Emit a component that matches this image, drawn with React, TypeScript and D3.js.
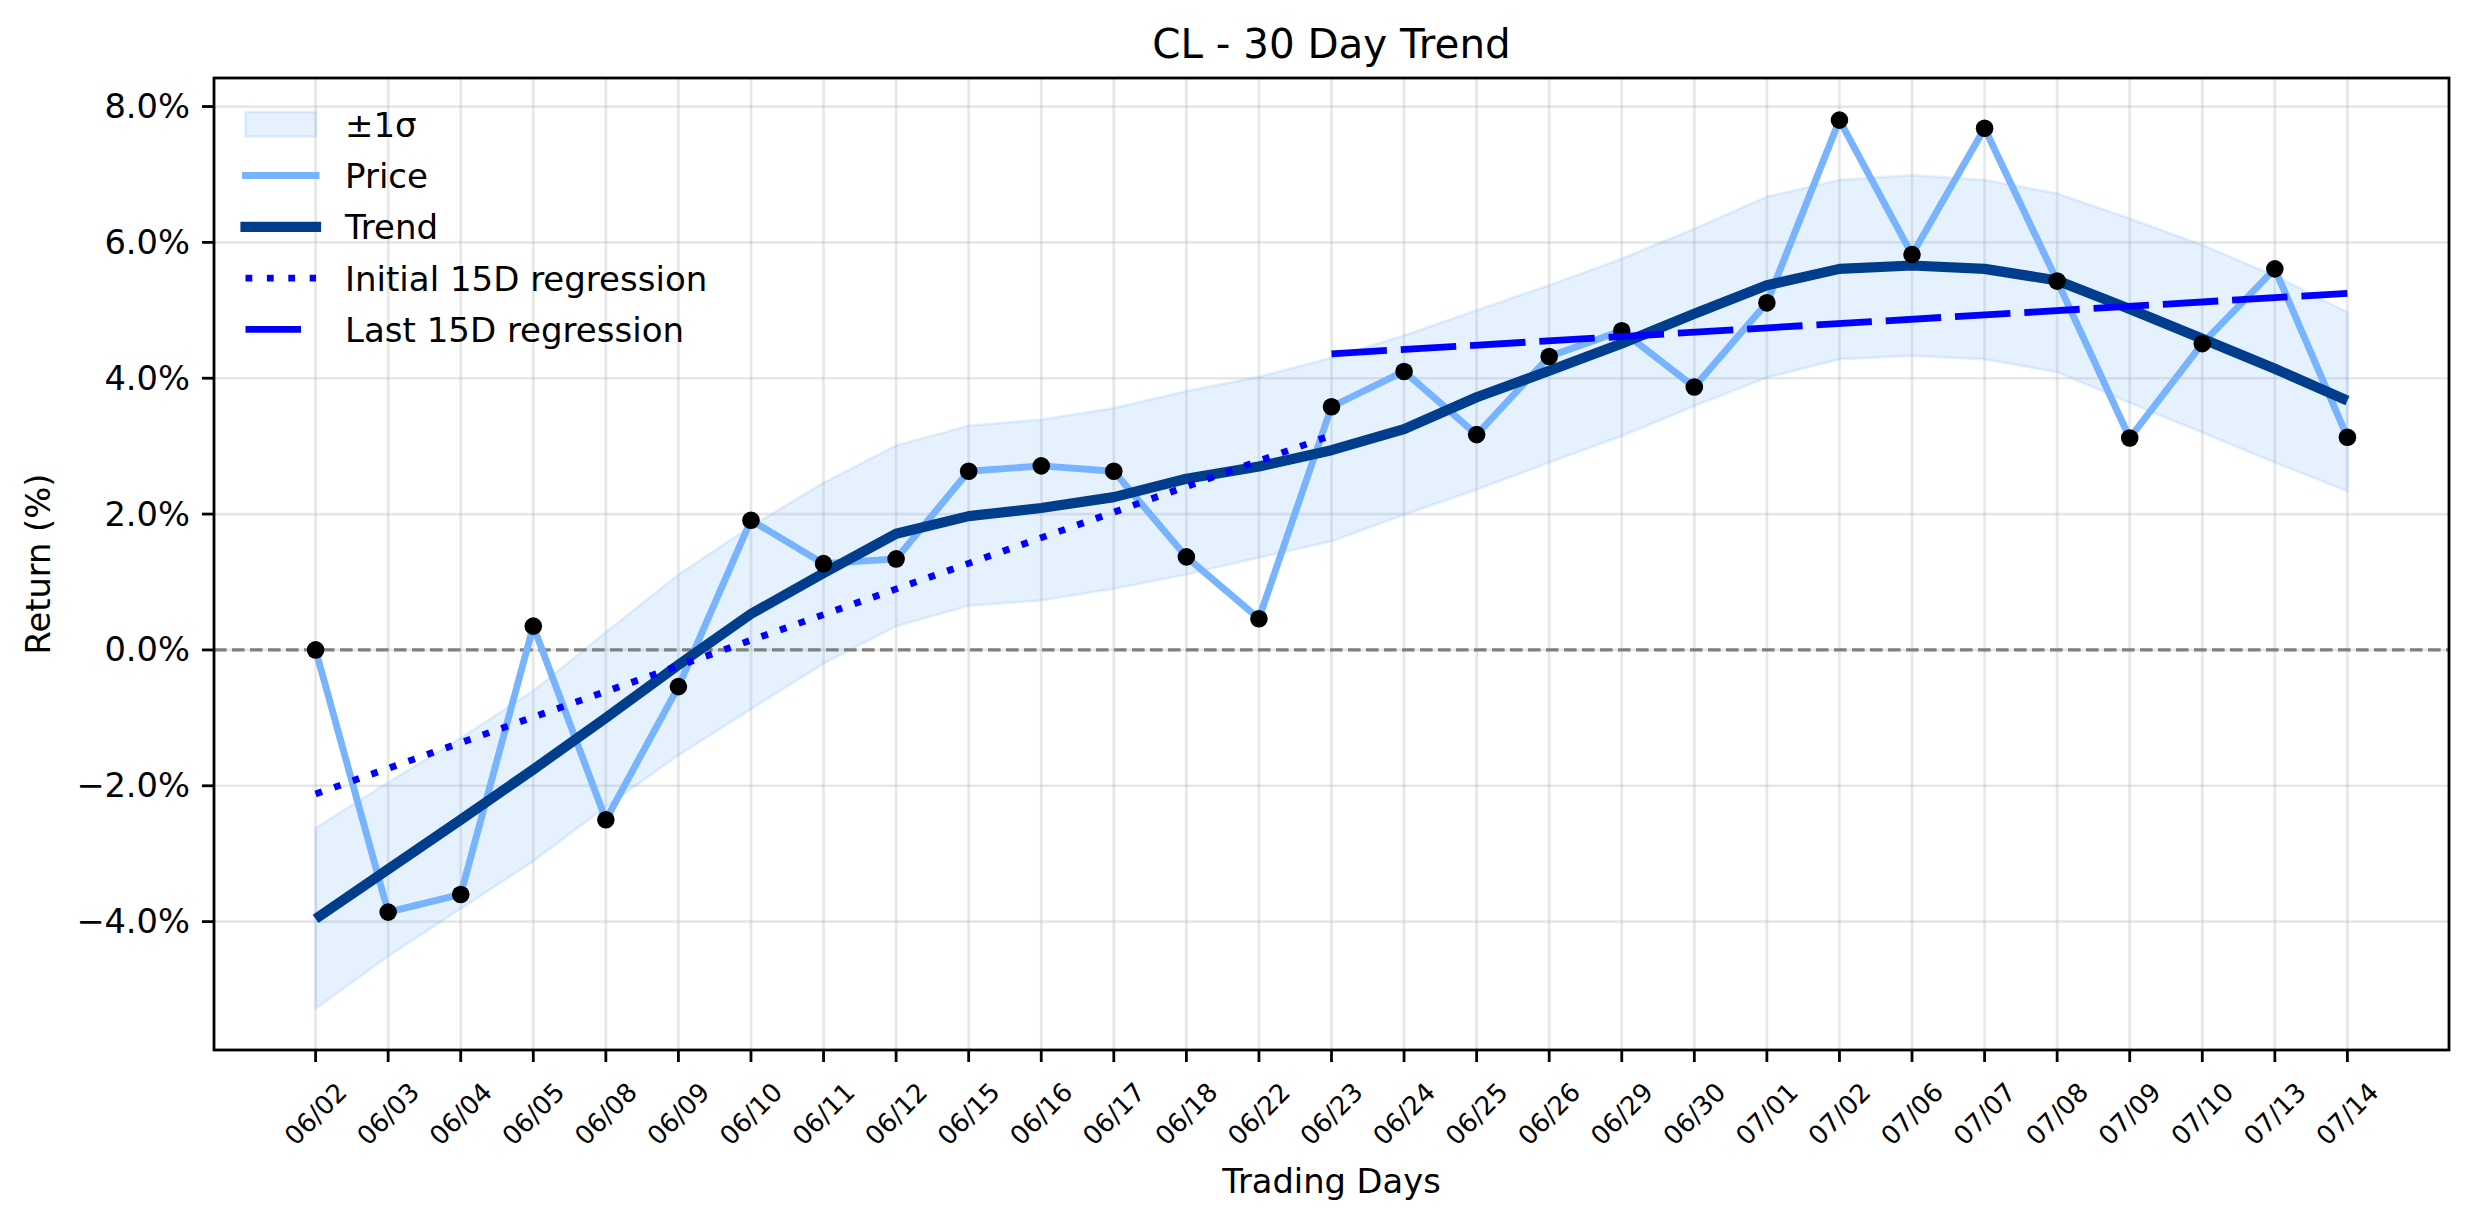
import * as d3 from 'd3';
import React from 'react';

const dates = ['06/02', '06/03', '06/04', '06/05', '06/08', '06/09', '06/10', '06/11', '06/12', '06/15',
  '06/16', '06/17', '06/18', '06/22', '06/23', '06/24', '06/25', '06/26', '06/29', '06/30',
  '07/01', '07/02', '07/06', '07/07', '07/08', '07/09', '07/10', '07/13', '07/14'];

// returns in %
const price = [0, -3.86, -3.60, 0.35, -2.50, -0.54, 1.91, 1.27, 1.34, 2.63,
  2.71, 2.63, 1.37, 0.46, 3.58, 4.10, 3.17, 4.32, 4.70, 3.87,
  5.11, 7.80, 5.82, 7.68, 5.43, 3.12, 4.51, 5.61, 3.13];

const trend = [-3.96, -3.23, -2.50, -1.76, -1.00, -0.22, 0.53, 1.13, 1.71, 1.97,
  2.09, 2.25, 2.52, 2.70, 2.94, 3.25, 3.72, 4.11, 4.51, 4.95,
  5.37, 5.61, 5.66, 5.61, 5.44, 5.02, 4.58, 4.14, 3.67];

const upper = [-2.62, -1.95, -1.30, -0.60, 0.26, 1.11, 1.82, 2.46, 3.01, 3.30,
  3.39, 3.56, 3.81, 4.02, 4.30, 4.63, 5.00, 5.37, 5.76, 6.20,
  6.67, 6.92, 6.99, 6.92, 6.72, 6.35, 5.96, 5.51, 4.97];

const lower = [-5.28, -4.51, -3.81, -3.11, -2.31, -1.55, -0.87, -0.20, 0.35, 0.65,
  0.73, 0.90, 1.11, 1.36, 1.60, 1.99, 2.36, 2.76, 3.15, 3.59,
  4.01, 4.28, 4.33, 4.28, 4.09, 3.64, 3.20, 2.76, 2.34];

// regression segments: [start index, end index] and values at the ends
const initialRegIdx = [0, 14];
const initialRegVal = [-2.12, 3.16];
const lastRegIdx = [14, 28];
const lastRegVal = [4.36, 5.25];

const yTicks = [-4, -2, 0, 2, 4, 6, 8];

const W = 2474;
const H = 1224;
const L = 214, R = 2449, T = 78, B = 1050;
const FONT = 'DejaVu Sans, sans-serif';

const PRICE_C = '#78b4fe';
const TREND_C = '#003d8c';
const BAND_C = '#7fb8f7';

export default function App() {
  const x = d3.scaleLinear().domain([-1.4, 29.4]).range([L, R]);
  const y = d3.scaleLinear().domain([-5.89, 8.42]).range([B, T]);

  const idx = d3.range(dates.length);
  const priceD = d3.line<number>().x((i) => x(i)).y((i) => y(price[i]))(idx);
  const trendD = d3.line<number>().x((i) => x(i)).y((i) => y(trend[i]))(idx);
  const bandD = d3.area<number>().x((i) => x(i)).y0((i) => y(lower[i])).y1((i) => y(upper[i]))(idx);

  const fmt = (v: number) => (v < 0 ? '\u2212' : '') + Math.abs(v).toFixed(1) + '%';

  const legendX0 = 245.5, legendX1 = 316, legendTextX = 345;
  const rows = [124.3, 175.5, 226.8, 278.1, 329.4];

  return (
    <svg width={W} height={H} style={{ position: 'absolute', left: 0, top: 0, display: 'block', background: '#fff' }}
      fontFamily={FONT}>
      <rect x={0} y={0} width={W} height={H} fill="#fff" />
      <text x={(L + R) / 2} y={57.5} fontSize={40.4} textAnchor="middle">CL - 30 Day Trend</text>

      {/* grid */}
      <g stroke="#b0b0b0" strokeOpacity={0.3} strokeWidth={2.7}>
        {idx.map((i) => <line key={'gx' + i} x1={x(i)} x2={x(i)} y1={T} y2={B} />)}
        {yTicks.map((v) => <line key={'gy' + v} x1={L} x2={R} y1={y(v)} y2={y(v)} />)}
      </g>

      {/* band */}
      <path d={bandD || ''} fill={BAND_C} fillOpacity={0.2} stroke={BAND_C} strokeOpacity={0.2} strokeWidth={2.7} />

      {/* zero line */}
      <line x1={L} x2={R} y1={y(0)} y2={y(0)} stroke="#808080" strokeWidth={3.4} strokeDasharray="12.6 5.4" />

      <path d={priceD || ''} fill="none" stroke={PRICE_C} strokeWidth={6.9} strokeLinejoin="round" />
      <path d={trendD || ''} fill="none" stroke={TREND_C} strokeWidth={10.2} strokeLinejoin="round" />

      {idx.map((i) => <circle key={'p' + i} cx={x(i)} cy={y(price[i])} r={8.8} fill="#000" />)}

      <line x1={x(initialRegIdx[0])} x2={x(initialRegIdx[1])} y1={y(initialRegVal[0])} y2={y(initialRegVal[1])}
        stroke="#0000ff" strokeWidth={6.8} strokeDasharray="6.8 12.9" />
      <line x1={x(lastRegIdx[0])} x2={x(lastRegIdx[1])} y1={y(lastRegVal[0])} y2={y(lastRegVal[1])}
        stroke="#0000ff" strokeWidth={6.8} strokeDasharray="55.5 13.9" />

      {/* spines */}
      <rect x={L} y={T} width={R - L} height={B - T} fill="none" stroke="#000" strokeWidth={2.8} />

      {/* y axis */}
      {yTicks.map((v) => (
        <g key={'yt' + v}>
          <line x1={L - 12} x2={L} y1={y(v)} y2={y(v)} stroke="#000" strokeWidth={2.8} />
          <text x={L - 24} y={y(v)} fontSize={33.7} textAnchor="end" dominantBaseline="central">{fmt(v)}</text>
        </g>
      ))}
      <text transform={`translate(50, ${(T + B) / 2}) rotate(-90)`} fontSize={33.7} textAnchor="middle">Return (%)</text>

      {/* x axis */}
      {idx.map((i) => (
        <g key={'xt' + i}>
          <line x1={x(i)} x2={x(i)} y1={B} y2={B + 12} stroke="#000" strokeWidth={2.8} />
          <text transform={`translate(${x(i)}, 1114) rotate(-45)`} fontSize={26} textAnchor="middle"
            dominantBaseline="central">{dates[i]}</text>
        </g>
      ))}
      <text x={(L + R) / 2} y={1193} fontSize={33.7} textAnchor="middle">Trading Days</text>

      {/* legend */}
      <g fontSize={34}>
        <rect x={legendX0} y={rows[0] - 12.3} width={legendX1 - legendX0} height={24.6}
          fill={BAND_C} fillOpacity={0.2} stroke={BAND_C} strokeOpacity={0.2} strokeWidth={2.7} />
        <text x={legendTextX} y={rows[0] + 12.5}>±1σ</text>

        <line x1={legendX0} x2={legendX1} y1={rows[1]} y2={rows[1]} stroke={PRICE_C} strokeWidth={6.9} strokeLinecap="square" />
        <text x={legendTextX} y={rows[1] + 12.5}>Price</text>

        <line x1={legendX0} x2={legendX1} y1={rows[2]} y2={rows[2]} stroke={TREND_C} strokeWidth={10.2} strokeLinecap="square" />
        <text x={legendTextX} y={rows[2] + 12.5}>Trend</text>

        <line x1={legendX0} x2={legendX1} y1={rows[3]} y2={rows[3]} stroke="#0000ff" strokeWidth={6.8} strokeDasharray="6.8 14.6" />
        <text x={legendTextX} y={rows[3] + 12.5}>Initial 15D regression</text>

        <line x1={legendX0} x2={legendX1} y1={rows[4]} y2={rows[4]} stroke="#0000ff" strokeWidth={6.8} strokeDasharray="55.5 20" />
        <text x={legendTextX} y={rows[4] + 12.5}>Last 15D regression</text>
      </g>
    </svg>
  );
}
